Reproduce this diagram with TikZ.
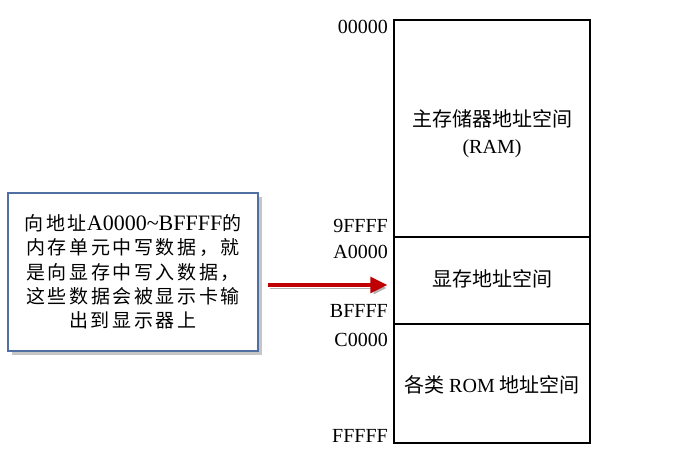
\documentclass[tikz,border=0pt]{standalone}
\usepackage{fontspec}
\setmainfont{Liberation Serif}
\newfontfamily\cjk{Noto Sans CJK SC}
\newfontfamily\cjknote[LetterSpace=14]{Noto Sans CJK SC}
\usetikzlibrary{arrows.meta,shadows,calc}
\definecolor{noteblue}{RGB}{79,112,160}
\definecolor{arrowred}{RGB}{192,0,0}

\begin{document}
\begin{tikzpicture}[x=1pt,y=-1pt,
  addr/.style={anchor=east,inner sep=0pt,font=\fontsize{20}{20}\selectfont},
  block/.style={draw,line width=1.4pt,minimum width=196pt,inner sep=0pt},
  memtext/.style={align=center,inner sep=0pt,font=\fontsize{20}{27}\selectfont}]
  \useasboundingbox (0,0) rectangle (685,470);

  \node[block,minimum height=217pt] (ram) at (492,128.5) {};
  \node[block,minimum height=87pt] (vram) at (492,280.5) {};
  \node[block,minimum height=119pt] (rom) at (492,383.5) {};

  \node[memtext] (ramtext) at ([yshift=-5pt]ram.center) {{\cjk 主存储器地址空间}\\(RAM)};
  \node[memtext] (vramtext) at ([yshift=1.5pt]vram.center) {\cjk 显存地址空间};
  \node[memtext] (romtext) at ([yshift=-1.5pt]rom.center) {{\cjk 各类} ROM {\cjk 地址空间}};

  \node[addr] (a0) at (388,27) {00000};
  \node[addr] (a1) at (388,226) {9FFFF};
  \node[addr] (a2) at (388,252) {A0000};
  \node[addr] (a3) at (388,311) {BFFFF};
  \node[addr] (a4) at (388,340) {C0000};
  \node[addr] (a5) at (388,436) {FFFFF};

  \node[draw=noteblue,line width=1.2pt,fill=white,minimum width=250pt,minimum height=158pt,
    drop shadow={opacity=0.45,shadow xshift=4pt,shadow yshift=-4pt},align=center,
    font=\fontsize{19}{24.3}\selectfont] (note) at (133,272)
    {{\cjknote 向地址}{\fontsize{22}{24.3}\selectfont A0000\textasciitilde BFFFF}{\cjknote 的}\\
     {\cjknote 内存单元中写数据，就}\\
     {\cjknote 是向显存中写入数据，}\\
     {\cjknote 这些数据会被显示卡输}\\
     {\cjknote 出到显示器上}};

  \draw[line width=3pt,arrowred,-{Triangle[length=17pt,width=16pt]},
    preaction={draw=black!30,transform canvas={xshift=2pt,yshift=-3pt}}]
    ($(note.east)+(9,13)$) -- ($(vram.west)+(-6,4.5)$);
\end{tikzpicture}
\end{document}
